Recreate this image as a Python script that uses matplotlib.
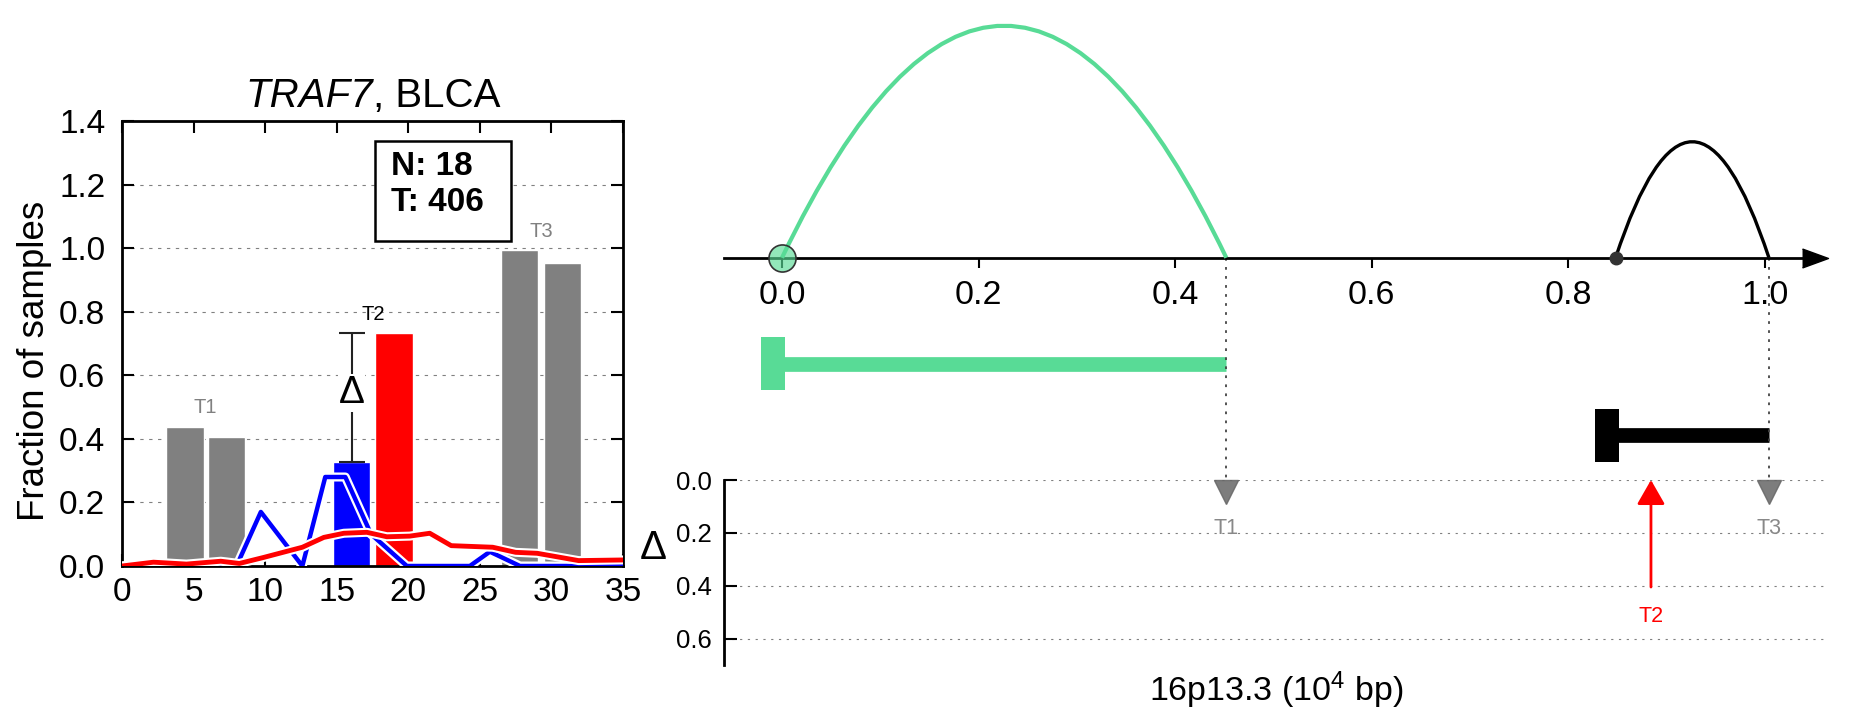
import numpy as np
import matplotlib
matplotlib.use('Agg')
import matplotlib.pyplot as plt
import matplotlib.patheffects as pe
import matplotlib.transforms as mtransforms
from matplotlib.path import Path
from matplotlib.patches import PathPatch, Rectangle
from matplotlib.offsetbox import TextArea, HPacker, AnchoredOffsetbox

plt.rcParams['font.family'] = ['Liberation Sans', 'DejaVu Sans']
plt.rcParams['mathtext.fontset'] = 'custom'
plt.rcParams['mathtext.rm'] = 'Liberation Sans'
plt.rcParams['mathtext.it'] = 'Liberation Sans:italic'

# ---- left panel data ----
gene, cancer = 'TRAF7', 'BLCA'
n_normal, n_tumor = 18, 406
bar_pos = [4.4, 7.3, 16.05, 19.0, 27.75, 30.8]
bar_val = [0.438, 0.405, 0.326, 0.732, 0.993, 0.952]
bar_col = ['gray', 'gray', 'blue', 'red', 'gray', 'gray']
t_names = ['T1', 'T2', 'T3']
t_bars = [(0, 1), (2, 3), (4, 5)]
t_col = ['gray', 'black', 'gray']

blue_x = [0, 8.0, 9.7, 12.6, 14.2, 15.6, 17.4, 19.9, 24.3, 25.7, 27.8, 35]
blue_y = [0, 0, 0.17, 0, 0.28, 0.28, 0.10, 0, 0, 0.045, 0, 0]
red_x = [0, 2.2, 4.5, 6.9, 8.2, 9.9, 12.6, 14.1, 15.5, 17.1, 18.5, 20.1, 21.5,
         23.0, 25.9, 27.5, 29.0, 31.9, 35]
red_y = [0, 0.012, 0.006, 0.015, 0.008, 0.027, 0.059, 0.09, 0.103, 0.106, 0.092,
         0.094, 0.103, 0.064, 0.059, 0.043, 0.04, 0.017, 0.019]

# ---- right panel data ----
tx_start = [0.0, 0.848]
tx_end = [0.452, 1.004]
arc_h = [1.0, 0.5]
tx_col = ['#58db96', 'black']
t_pos = [0.452, 0.884, 1.004]
t_delta = [0.0, 0.405, 0.0]
locus = '16p13.3'

W, H = 1851, 718
fig = plt.figure(figsize=(W / 100, H / 100), dpi=100)

# ================= left panel =================
ax = fig.add_axes([122 / W, 1 - 566 / H, (623 - 122) / W, (566 - 121) / H])
ax.set_axisbelow(True)
ax.bar(bar_pos, bar_val, width=2.6, color=bar_col, edgecolor='white', lw=1, zorder=2)
stroke = [pe.Stroke(linewidth=6.5, foreground='white'), pe.Normal()]
ax.plot(blue_x, blue_y, color='blue', lw=3.2, zorder=3, path_effects=stroke)
ax.plot(red_x, red_y, color='red', lw=3.5, zorder=4, path_effects=stroke)

for name, (i, j), c in zip(t_names, t_bars, t_col):
    xc = (bar_pos[i] + bar_pos[j]) / 2
    ax.text(xc, max(bar_val[i], bar_val[j]) + 0.06, name, color=c, fontsize=14.5,
            ha='center', va='center', zorder=6)

# delta between normal (blue) and tumour (red)
lo, hi = bar_val[2], bar_val[3]
ax.errorbar([bar_pos[2]], [(lo + hi) / 2], yerr=[[(hi - lo) / 2], [(hi - lo) / 2]],
            fmt='none', ecolor='#222', elinewidth=1.5, capsize=9.5, capthick=1.5, zorder=5)
ax.text(bar_pos[2], (lo + hi) / 2 + 0.015, '\u0394', fontsize=28, ha='center', va='center',
        zorder=6, bbox=dict(fc='white', ec='none', pad=0.5))

ax.add_patch(Rectangle((17.68, 1.022), 9.52, 0.314, fc='white', ec='black', lw=1.8, zorder=7))
ax.text(18.8, 1.199, 'N: %d\nT: %d' % (n_normal, n_tumor), fontsize=24, fontweight='bold',
        ha='left', va='center', linespacing=1.2, zorder=8)

ax.set_xlim(0, 35)
ax.set_ylim(0, 1.4)
ax.set_xticks(np.arange(0, 36, 5))
ax.set_yticks(np.arange(0, 1.41, 0.2))
ax.set_yticklabels(['%.1f' % v for v in np.arange(0, 1.41, 0.2)])
ax.yaxis.grid(True, linestyle=(0, (3, 5)), color='gray', lw=0.8)
ax.tick_params(direction='in', length=8.5, width=1.5, top=True, right=True, labelsize=24)
ax.tick_params(axis='x', pad=8)
ax.tick_params(axis='y', pad=12)
for s in ax.spines.values():
    s.set_linewidth(2)
ax.set_ylabel('Fraction of samples', fontsize=26.5)
ax.yaxis.set_label_coords(-0.14, 0.46)

# title: italic gene name followed by upright cancer type
title = HPacker(children=[TextArea(gene, textprops=dict(fontsize=29, style='italic')),
                          TextArea(', ' + cancer, textprops=dict(fontsize=29))],
                align='baseline', pad=0, sep=0)
ax.add_artist(AnchoredOffsetbox(loc='lower center', child=title, frameon=False, pad=0,
                                borderpad=0.4, bbox_to_anchor=(0.5, 1.0),
                                bbox_transform=ax.transAxes))

# ================= top right: arcs and transcripts =================
x0, x1 = (724 - 782) / 983, (1815 - 782) / 983
ax2 = fig.add_axes([724 / W, 1 - 480 / H, (1815 - 724) / W, (480 - 20) / H])
ax2.set_xlim(x0, x1)
ax2.set_ylim(-0.958, 1.0246)
for k in ['left', 'right', 'top']:
    ax2.spines[k].set_visible(False)
ax2.spines['bottom'].set_position(('data', 0))
ax2.spines['bottom'].set_linewidth(2)
ax2.set_yticks([])
ax2.set_xticks(np.arange(0, 1.01, 0.2))
ax2.set_xticklabels(['%.1f' % v for v in np.arange(0, 1.01, 0.2)])
ax2.tick_params(axis='x', direction='out', length=7, width=1.5, labelsize=24.5, pad=9)
ax2.plot([1], [0], marker=[(-1, -0.73), (1, 0), (-1, 0.73)], ms=18.7, color='black',
         transform=ax2.get_yaxis_transform(), clip_on=False)

tx_y = [-0.456, -0.766]
arc_lw = [3.0, 2.4]
for s, e, h, c, ty, lw in zip(tx_start, tx_end, arc_h, tx_col, tx_y, arc_lw):
    arc = Path([(s, 0), ((s + e) / 2, 2 * h), (e, 0)], [Path.MOVETO, Path.CURVE3, Path.CURVE3])
    ax2.add_patch(PathPatch(arc, fc='none', ec=c, lw=lw, zorder=3))
    ax2.plot([s, e], [ty, ty], color=c, lw=10.6, solid_capstyle='butt')
    ax2.add_patch(Rectangle((s - 0.021, ty - 0.1135), 0.0245, 0.227, color=c, lw=0))
    ax2.plot([e, e], [0, -0.958], ls=(0, (1.5, 3.5)), color='#444', lw=1.3, clip_on=False)

ax2.plot(tx_start[0], 0, 'o', ms=19.5, mfc=(0.35, 0.86, 0.59, 0.65), mec='#333', mew=1.2,
         zorder=5, clip_on=False)
ax2.plot(tx_start[1], 0, 'o', ms=9, color='#333', zorder=5, clip_on=False)

# ================= bottom right: delta track =================
ax3 = fig.add_axes([724 / W, 1 - 665 / H, (1828 - 724) / W, (665 - 480) / H])
ax3.set_xlim(x0, (1828 - 782) / 983)
ax3.set_ylim(0.7, 0)
for k in ['bottom', 'right', 'top']:
    ax3.spines[k].set_visible(False)
ax3.spines['left'].set_linewidth(2)
ax3.set_xticks([])
ax3.set_yticks([0, 0.2, 0.4, 0.6])
ax3.set_yticklabels(['0.0', '0.2', '0.4', '0.6'])
ax3.tick_params(axis='y', direction='in', length=9, width=1.5, labelsize=18.5, pad=9)
ax3.yaxis.grid(True, linestyle=(0, (2, 5)), color='gray', lw=0.8)
ax3.set_ylabel('\u0394', fontsize=29, rotation=0, va='center', ha='center')
ax3.yaxis.set_label_coords(-0.064, 0.63)
ax3.set_xlabel('%s (10$^{4}$ bp)' % locus, fontsize=24.5, labelpad=3)

tri = mtransforms.offset_copy(ax3.transData, fig=fig, x=0, y=-8.5, units='points')
for name, xp, d in zip(t_names, t_pos, t_delta):
    if d == 0:
        ax3.plot(xp, 0, 'v', ms=17.5, color='#666', alpha=0.85, transform=tri, clip_on=False)
        ax3.text(xp, 0.185, name, color='#888', fontsize=15.5, ha='center', va='center')
    else:
        ax3.annotate('', xy=(xp, 0), xytext=(xp, d), annotation_clip=False,
                     arrowprops=dict(arrowstyle='-|>,head_width=0.43,head_length=0.75',
                                     mutation_scale=20, color='red', lw=2,
                                     shrinkA=0, shrinkB=0))
        ax3.text(xp, d + 0.11, name, color='red', fontsize=15.5, ha='center', va='center')

fig.savefig('out.png', dpi=100)
